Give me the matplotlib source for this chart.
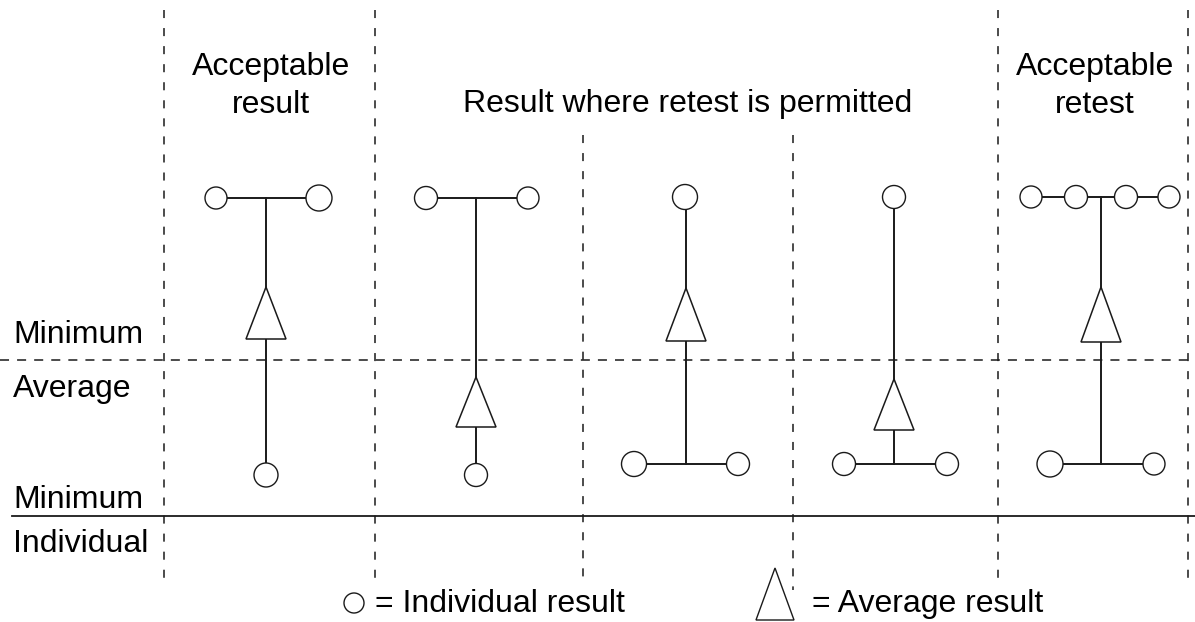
import matplotlib
matplotlib.use("Agg")
import matplotlib.pyplot as plt
from matplotlib.patches import Circle, Polygon

plt.rcParams['font.family'] = ['Liberation Sans', 'DejaVu Sans']
plt.rcParams['lines.scale_dashes'] = False

# ---- data (pixel-like value scale, y grows downward) ----
group_titles = [["Acceptable", "result"], ["Result where retest is permitted"], ["Acceptable", "retest"]]
group_title_x = [271, 688, 1095]
row_labels = ["Minimum", "Average", "Minimum", "Individual"]
row_label_y = [343, 397, 508, 552]

col_centers = [266, 476, 686, 894, 1101]
top_y = [198, 198, 197, 197, 197]
top_x = [[216, 319], [426, 528], [685], [894], [1031, 1076, 1126, 1169]]
top_r = [[11, 13], [11.5, 11], [12.5], [11.5], [11, 11.5, 11.5, 11]]
bottom_y = [475, 475, 464, 464, 464]
bottom_x = [[266], [476], [634, 738], [844, 947], [1050, 1154]]
bottom_r = [[12], [11.5], [12.5, 11.5], [11.5, 11.5], [13, 11]]
avg_apex = [287, 377, 288, 379, 287]
avg_base = [339, 427, 341, 430, 342]

vlines_x = [164, 375, 583, 793, 998, 1188]
vlines_top = [10, 10, 135, 135, 10, 10]
vlines_bot = [580, 580, 585, 590, 578, 580]
avg_limit_y = 360
ind_limit_y = 516

W, H = 1195, 622
fig = plt.figure(figsize=(W / 100, H / 100), dpi=100)
ax = fig.add_axes([0, 0, 1, 1])
ax.set_xlim(0, W)
ax.set_ylim(H, 0)
ax.axis('off')

LC = '#1a1a1a'
FS = 23

# limit lines
for x, t, b in zip(vlines_x, vlines_top, vlines_bot):
    ax.plot([x, x], [t, b], color=LC, lw=1.1, dashes=(5.8, 7.2), zorder=1)
ax.plot([0, W], [avg_limit_y, avg_limit_y], color=LC, lw=1.1, dashes=(6.5, 5.8), zorder=1)
ax.plot([12, W], [ind_limit_y, ind_limit_y], color=LC, lw=1.3, zorder=1)

# columns
for i, cx in enumerate(col_centers):
    ax.plot([cx, cx], [top_y[i], bottom_y[i]], color=LC, lw=1.4, zorder=2)
    ax.plot([min(top_x[i]), max(top_x[i])], [top_y[i], top_y[i]], color=LC, lw=1.4, zorder=2)
    ax.plot([min(bottom_x[i]), max(bottom_x[i])], [bottom_y[i], bottom_y[i]], color=LC, lw=1.4, zorder=2)
    for x, r in zip(top_x[i], top_r[i]):
        ax.add_patch(Circle((x, top_y[i]), r, facecolor='white', edgecolor=LC, lw=1.0, zorder=3))
    for x, r in zip(bottom_x[i], bottom_r[i]):
        ax.add_patch(Circle((x, bottom_y[i]), r, facecolor='white', edgecolor=LC, lw=1.0, zorder=3))
    ax.add_patch(Polygon([(cx, avg_apex[i]), (cx - 20, avg_base[i]), (cx + 20, avg_base[i])],
                         closed=True, facecolor='white', edgecolor=LC, lw=1.1, zorder=3))

# titles
for lines, x in zip(group_titles, group_title_x):
    if len(lines) == 2:
        ax.text(x, 75, lines[0], ha='center', va='baseline', fontsize=FS, color='black')
        ax.text(x, 113, lines[1], ha='center', va='baseline', fontsize=FS, color='black')
    else:
        ax.text(x, 112, lines[0], ha='center', va='baseline', fontsize=FS, color='black')

for lab, y in zip(row_labels, row_label_y):
    ax.text(13, y, lab, ha='left', va='baseline', fontsize=FS, color='black')

# legend
ax.add_patch(Circle((354, 603), 10, facecolor='white', edgecolor=LC, lw=1.0))
ax.text(375, 612, "= Individual result", ha='left', va='baseline', fontsize=FS, color='black')
ax.add_patch(Polygon([(775, 568), (756, 620), (794, 620)], closed=True,
                     facecolor='white', edgecolor=LC, lw=1.0))
ax.text(812, 612, "= Average result", ha='left', va='baseline', fontsize=FS, color='black')

fig.savefig("out.png", dpi=100, facecolor='white')
